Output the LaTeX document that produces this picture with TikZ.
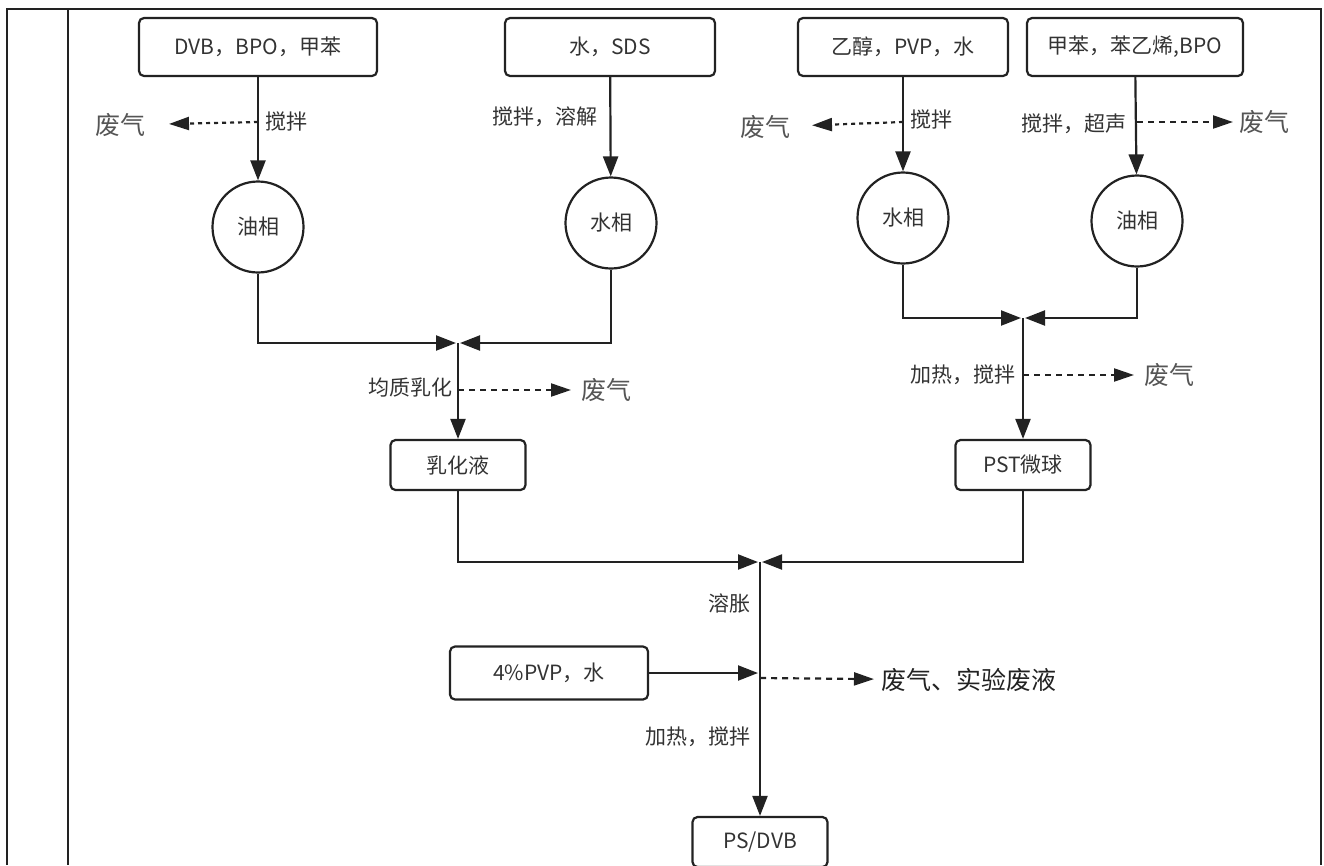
\documentclass[tikz,border=0pt]{standalone}
\usepackage{fontspec}
\setmainfont{Noto Sans CJK SC}
\usetikzlibrary{arrows.meta}
\definecolor{ink}{HTML}{222222}
\definecolor{txt}{HTML}{333333}
\definecolor{gastxt}{HTML}{555555}

\begin{document}
\begin{tikzpicture}[x=1pt, y=-1pt,
    every node/.style={text=txt, font=\fontsize{21}{24}\selectfont},
    box/.style={draw=ink, line width=2.2pt, rounded corners=5pt, minimum height=58pt},
    phase/.style={circle, draw=ink, line width=2.2pt, minimum size=91pt},
    gas/.style={text=gastxt, font=\fontsize{25}{28}\selectfont, inner sep=1pt},
    flow/.style={draw=ink, line width=2.2pt, -{Triangle[length=20pt,width=15pt]}},
    waste/.style={draw=ink, line width=2.2pt, dash pattern=on 6pt off 5pt, -{Triangle[length=20pt,width=13pt]}},
    wastedot/.style={draw=ink, line width=2.2pt, dash pattern=on 4pt off 4pt, -{Triangle[length=20pt,width=13pt]}}
    ]
    \useasboundingbox (0,0) rectangle (1324,865);
    \draw[ink, line width=2.5pt] (7,865) -- (7,9) -- (1321,9) -- (1321,865);
    \draw[ink, line width=2pt] (68,9) -- (68,865);

    \node[box, minimum width=238pt] (b1) at (258,47) {DVB，BPO，甲苯};
    \node[box, minimum width=210pt] (b2) at (610,47) {水，SDS};
    \node[box, minimum width=210pt] (b3) at (903,47) {乙醇，PVP，水};
    \node[box, minimum width=216pt, inner sep=2pt] (b4) at (1135,47) {甲苯，苯乙烯,BPO};

    \node[phase] (oil1) at (258,227) {油相};
    \node[phase] (wat1) at (611,223) {水相};
    \node[phase] (wat2) at (903,218) {水相};
    \node[phase] (oil2) at (1137,221) {油相};

    \node[box, minimum width=135pt, minimum height=50pt] (emul) at (458,465) {乳化液};
    \node[box, minimum width=135pt, minimum height=50pt] (pst) at (1023,465) {PST微球};
    \node[box, minimum width=198pt, minimum height=53pt] (pvp) at (549,673) {4\%PVP，水};
    \node[box, minimum width=135pt, minimum height=50pt] (prod) at (760,842) {PS/DVB};

    \coordinate (w1) at (258,122);
    \coordinate (w3) at (903,122);
    \coordinate (w4) at (1137,122);
    \coordinate (m1) at (458,343);
    \coordinate (w5) at (458,390);
    \coordinate (m2) at (1023,318);
    \coordinate (w6) at (1023,375);
    \coordinate (m3) at (760,562);
    \coordinate (j) at (760,673);
    \coordinate (w7) at (760,678);

    \node[anchor=west] (s1) at (262,122) {搅拌};
    \node[anchor=east] (s2) at (601,117) {搅拌，溶解};
    \node[anchor=west] (s3) at (907,120) {搅拌};
    \node[anchor=east] (s4) at (1130,124) {搅拌，超声};
    \node[anchor=east] (s5) at (456,388) {均质乳化};
    \node[anchor=east] (s6) at (1019,375) {加热，搅拌};
    \node[anchor=east] (s7) at (754,603) {溶胀};
    \node[anchor=east] (s8) at (754,737) {加热，搅拌};

    \node[gas, anchor=east] (g1) at (147,125) {废气};
    \node[gas, anchor=east] (g2) at (792,127) {废气};
    \node[gas, anchor=west] (g3) at (1238,122) {废气};
    \node[gas, anchor=west] (g4) at (580,390) {废气};
    \node[gas, anchor=west] (g5) at (1143,375) {废气};
    \node[gas, anchor=west, text=ink] (g6) at (880,680) {废气、实验废液};

    \draw[flow] (b1) -- (oil1);
    \draw[flow] (b2) -- (wat1);
    \draw[flow] (b3) -- (wat2);
    \draw[flow] (b4) -- (oil2);

    \draw[wastedot, shorten >=22pt] (w1) -- (g1);
    \draw[wastedot, shorten >=20pt] (w3) -- (g2);
    \draw[waste, shorten >=5pt] (w4) -- (g3);
    \draw[waste, shorten >=9pt] (w5) -- (g4);
    \draw[waste, shorten >=9pt] (w6) -- (g5);
    \draw[waste, shorten >=6pt] (w7) -- (g6);

    \draw[flow, shorten >=2pt] (oil1) |- (m1);
    \draw[flow, shorten >=2pt] (wat1) |- (m1);
    \draw[flow] (m1) -- (emul);
    \draw[flow, shorten >=2pt] (wat2) |- (m2);
    \draw[flow, shorten >=2pt] (oil2) |- (m2);
    \draw[flow] (m2) -- (pst);

    \draw[flow, shorten >=2pt] (emul) |- (m3);
    \draw[flow, shorten >=2pt] (pst) |- (m3);
    \draw[flow, shorten >=2pt] (pvp) -- (j);
    \draw[flow] (m3) -- (prod);
  \end{tikzpicture}
\end{document}
